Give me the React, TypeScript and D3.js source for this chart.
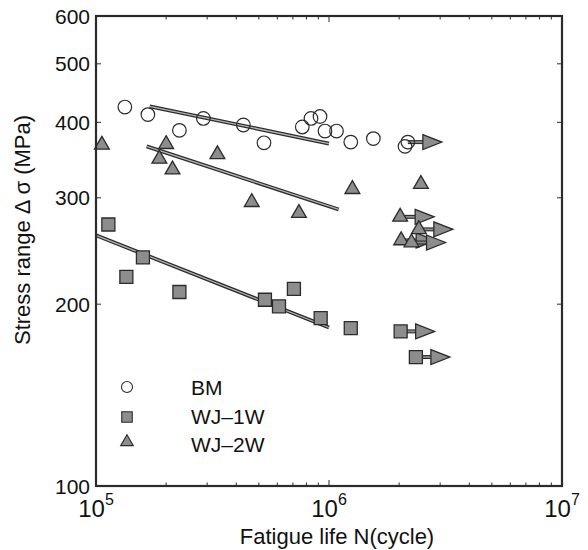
import React from 'react';
import * as d3 from 'd3';

// BM (base metal) - open circles
const bmN = [1.33e5, 1.67e5, 2.28e5, 2.89e5, 4.29e5, 5.26e5, 7.68e5, 8.37e5, 9.15e5, 9.61e5, 1.077e6, 1.24e6, 1.55e6, 2.12e6];
const bmS = [424, 412, 388, 406, 396, 370, 393, 406, 409, 387, 387, 371, 376, 365];
const bmRunN = [2.18e6];
const bmRunS = [371];

// WJ-1W - gray squares
const wj1N = [1.13e5, 1.59e5, 1.35e5, 2.28e5, 5.31e5, 6.1e5, 7.07e5, 9.21e5, 1.24e6];
const wj1S = [271, 239, 222, 209.5, 203.4, 198.4, 212, 189.7, 182.6];
const wj1RunN = [2.03e6, 2.36e6];
const wj1RunS = [180.3, 163.5];

// WJ-2W - gray triangles
const wj2N = [1.06e5, 2.0e5, 1.87e5, 2.13e5, 3.32e5, 4.66e5, 7.43e5, 1.26e6, 2.48e6];
const wj2S = [367, 368, 348, 334, 354, 295, 283, 310, 316];
const wj2RunN = [2.02e6, 2.43e6, 2.04e6, 2.26e6];
const wj2RunS = [279, 266, 255, 253];

// fitted S-N lines (end points)
const bmFitN = [1.7e5, 1.0e6];
const bmFitS = [425, 369];
const wj1FitN = [1.0e5, 1.0e6];
const wj1FitS = [260, 183];
const wj2FitN = [1.65e5, 1.1e6];
const wj2FitS = [365, 287];

const yTickValues = [100, 200, 300, 400, 500, 600];
const xMajor = [5, 6, 7];
const legendLabels = ['BM', 'WJ\u20131W', 'WJ\u20132W'];

const W = 588;
const H = 550;
const FONT = '"Liberation Sans", Arial, Helvetica, sans-serif';
const GRAY = '#8d8d8d';
const DARK = '#2b2b2b';

const App = () => {
  const x = d3.scaleLog().domain([1e5, 1e7]).range([96, 562]);
  const y = d3.scaleLog().domain([100, 600]).range([486, 16]);
  const [x0, x1] = x.range();
  const [y0, y1] = y.range();

  const minorX = x.ticks().filter(t => !xMajor.some(p => Math.abs(t - Math.pow(10, p)) < 1));
  const tri = d3.symbol(d3.symbolTriangle, 95)();
  const sq = d3.symbol(d3.symbolSquare, 169)();
  const triL = d3.symbol(d3.symbolTriangle, 70)();
  const sqL = d3.symbol(d3.symbolSquare, 110)();

  const fit = (ns: number[], ss: number[]) =>
    d3.line<number>().x(d => x(ns[d])).y(d => y(ss[d]))(ns.map((_, i) => i)) || '';

  const arrow = (n: number, s: number, key: string) => {
    const cx = x(n);
    const cy = y(s);
    const tip = cx + 34;
    const base = tip - 19;
    return (
      <g key={key}>
        <line x1={cx} x2={base} y1={cy} y2={cy} stroke={DARK} strokeWidth={4} />
        <line x1={cx} x2={base + 1} y1={cy} y2={cy} stroke={GRAY} strokeWidth={1.8} />
        <path d={`M${base},${cy - 7.5}L${tip},${cy}L${base},${cy + 7.5}Z`} fill={GRAY} stroke={DARK} strokeWidth={1.3} />
      </g>
    );
  };

  const fitLine = (ns: number[], ss: number[], key: string) => (
    <g key={key}>
      <path d={fit(ns, ss)} stroke={DARK} strokeWidth={3.8} fill="none" />
      <path d={fit(ns, ss)} stroke="#b5b5b5" strokeWidth={1.3} fill="none" />
    </g>
  );

  return (
    <svg width={W} height={H} style={{ position: 'absolute', left: 0, top: 0, background: '#fff' }} fontFamily={FONT}>
      <rect width={W} height={H} fill="#fff" />

      {/* fitted lines */}
      {fitLine(bmFitN, bmFitS, 'fbm')}
      {fitLine(wj2FitN, wj2FitS, 'fwj2')}
      {fitLine(wj1FitN, wj1FitS, 'fwj1')}

      {/* run-out arrows */}
      {bmRunN.map((n, i) => arrow(n, bmRunS[i], `ab${i}`))}
      {wj1RunN.map((n, i) => arrow(n, wj1RunS[i], `a1${i}`))}
      {wj2RunN.map((n, i) => arrow(n, wj2RunS[i], `a2${i}`))}

      {/* markers */}
      {bmN.concat(bmRunN).map((n, i) => (
        <circle key={`b${i}`} cx={x(n)} cy={y(bmS.concat(bmRunS)[i])} r={6.8} fill="none" stroke={DARK} strokeWidth={1.2} />
      ))}
      {wj1N.concat(wj1RunN).map((n, i) => (
        <path key={`s${i}`} d={sq} transform={`translate(${x(n)},${y(wj1S.concat(wj1RunS)[i])})`} fill={GRAY} stroke={DARK} strokeWidth={1.3} />
      ))}
      {wj2N.concat(wj2RunN).map((n, i) => (
        <path key={`t${i}`} d={tri} transform={`translate(${x(n)},${y(wj2S.concat(wj2RunS)[i])})`} fill={GRAY} stroke={DARK} strokeWidth={1.3} />
      ))}

      {/* frame */}
      <rect x={x0} y={y1} width={x1 - x0} height={y0 - y1} fill="none" stroke={DARK} strokeWidth={2.2} />

      {/* x ticks */}
      {xMajor.map(p => {
        const px = x(Math.pow(10, p));
        return (
          <g key={`xm${p}`}>
            <line x1={px} x2={px} y1={y0} y2={y0 - 6} stroke={DARK} strokeWidth={1} />
            <line x1={px} x2={px} y1={y1} y2={y1 + 6} stroke={DARK} strokeWidth={1} />
            <text x={px} y={517} textAnchor="middle" fontSize={24} fill="#111">
              10<tspan fontSize={16} dy={-12}>{p}</tspan>
            </text>
          </g>
        );
      })}
      {minorX.map((t, i) => (
        <g key={`xn${i}`}>
          <line x1={x(t)} x2={x(t)} y1={y0} y2={y0 - 3.5} stroke={DARK} strokeWidth={1} />
          <line x1={x(t)} x2={x(t)} y1={y1} y2={y1 + 3.5} stroke={DARK} strokeWidth={1} />
        </g>
      ))}

      {/* y ticks */}
      {yTickValues.map(v => (
        <g key={`y${v}`}>
          <line x1={x0} x2={x0 + 5} y1={y(v)} y2={y(v)} stroke={DARK} strokeWidth={1} />
          <line x1={x1} x2={x1 - 5} y1={y(v)} y2={y(v)} stroke={DARK} strokeWidth={1} />
          <text x={90} y={y(v)} dy="0.36em" textAnchor="end" fontSize={21} fill="#111">{v}</text>
        </g>
      ))}

      {/* axis titles */}
      <text x={337} y={544} textAnchor="middle" fontSize={22} fill="#111">Fatigue life N(cycle)</text>
      <text transform="translate(30,230) rotate(-90)" textAnchor="middle" fontSize={22} fill="#111">
        Stress range {'\u0394'} {'\u03c3'} (MPa)
      </text>

      {/* legend */}
      <circle cx={127} cy={387} r={5.5} fill="none" stroke={DARK} strokeWidth={1.1} />
      <path d={sqL} transform="translate(127,417)" fill={GRAY} stroke={DARK} strokeWidth={1.1} />
      <path d={triL} transform="translate(127,442)" fill={GRAY} stroke={DARK} strokeWidth={1.1} />
      {legendLabels.map((l, i) => (
        <text key={l} x={191} y={395 + i * 28.5} fontSize={21} fill="#111">{l}</text>
      ))}
    </svg>
  );
};

export default App;
